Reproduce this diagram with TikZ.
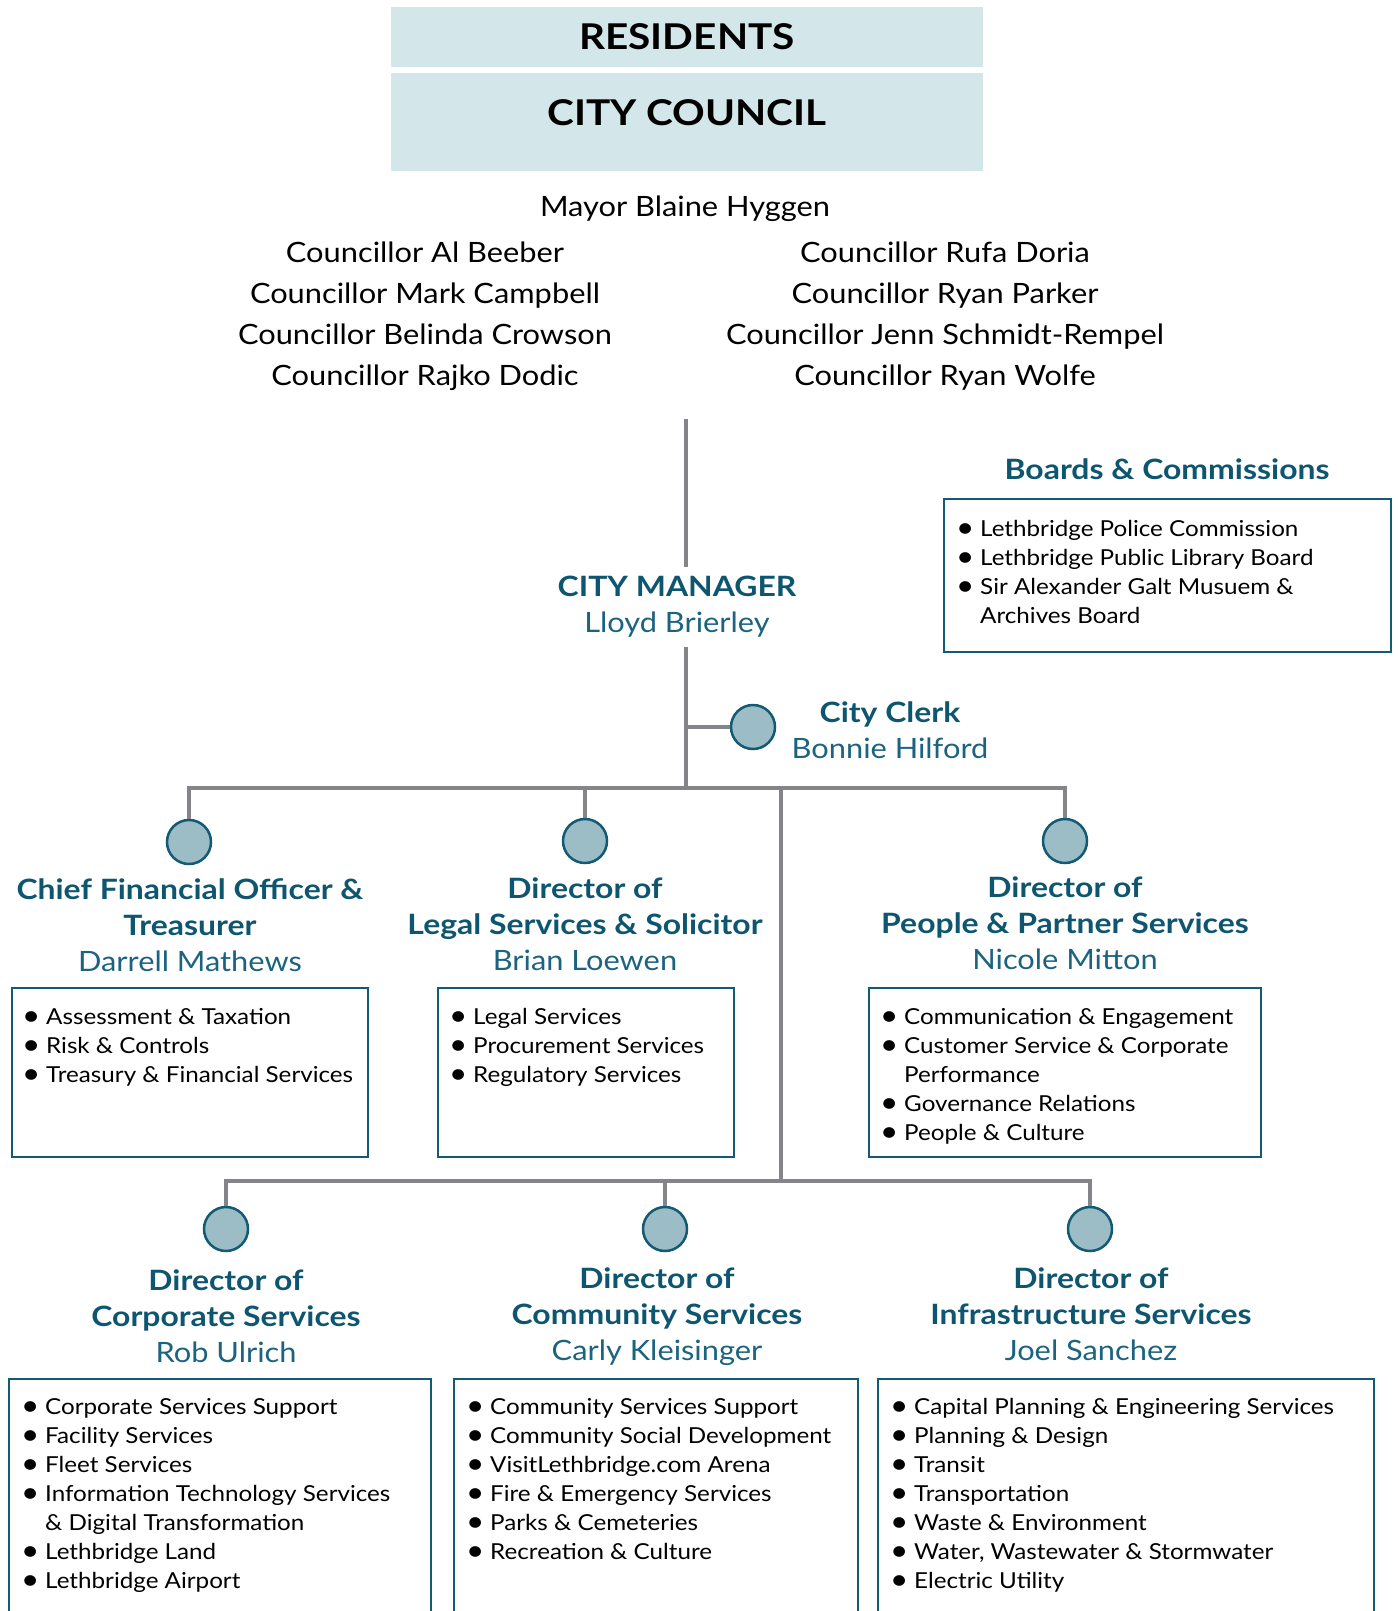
\documentclass[tikz,border=0pt]{standalone}
\usepackage{fontspec}
\setmainfont{Lato}[FakeStretch=1.1,BoldFeatures={FakeStretch=1.14}]
\usepackage{tikz}
\usetikzlibrary{calc}
\definecolor{councilblue}{RGB}{211,230,234}
\definecolor{headteal}{RGB}{14,86,112}
\definecolor{nameteal}{RGB}{28,99,128}
\definecolor{frameteal}{RGB}{19,90,115}
\definecolor{dotfill}{RGB}{157,189,198}
\definecolor{linegray}{RGB}{133,133,137}
\newcommand{\itm}{\makebox[24pt][l]{\smash{\raisebox{-1.5pt}{\scalebox{1.3}{\textbullet}}}}}
\newcommand{\ind}{\hspace*{24pt}}

\begin{document}
\begin{tikzpicture}[x=1pt,y=-1pt]
                      \tikzstyle{dot}=[circle,line width=2.5pt,draw=frameteal,fill=dotfill,inner sep=0pt,minimum size=44pt]
                      \tikzstyle{conn}=[line width=4pt,draw=linegray]
                      \tikzstyle{frame}=[line width=2.5pt,draw=frameteal]
                      \tikzstyle{band}=[fill=councilblue,minimum width=592pt,inner sep=0pt]
                      \tikzstyle{head}=[align=center,text=headteal,font=\fontsize{28}{36}\selectfont,inner sep=0pt]
                      \tikzstyle{names}=[align=center,inner sep=0pt,font=\fontsize{28}{41}\selectfont]
                      \tikzstyle{items}=[align=left,anchor=north west,inner sep=0pt,font=\fontsize{22}{29}\selectfont]
                      \useasboundingbox (0,0) rectangle (1397,1611);
                      \clip (0,0) rectangle (1397,1611);
                      \node[band,minimum height=60pt,font=\fontsize{35.5}{36}\selectfont\bfseries] (residents) at (687,37) {RESIDENTS};
                      \node[band,minimum height=98pt] (council) at (687,122) {};
                      \node[font=\fontsize{35.5}{36}\selectfont\bfseries] (counciltext) at (687,113) {CITY COUNCIL};
                      \node[font=\fontsize{28}{28}\selectfont] (mayor) at (685,209) {Mayor Blaine Hyggen};
                      \node[names] (leftcouncil) at (425,316) {Councillor Al Beeber\\Councillor Mark Campbell\\Councillor Belinda Crowson\\Councillor Rajko Dodic};
                      \node[names] (rightcouncil) at (945,316) {Councillor Rufa Doria\\Councillor Ryan Parker\\Councillor Jenn Schmidt-Rempel\\Councillor Ryan Wolfe};
                      \node[head,inner sep=9pt] (manager) at (677,607) {\textbf{CITY MANAGER}\\\textcolor{nameteal}{Lloyd Brierley}};
                      \node[dot] (clerkdot) at (753,727) {};
                      \node[head] (clerk) at (890,730) {\textbf{City Clerk}\\\textcolor{nameteal}{Bonnie Hilford}};
                      \node[head] (boards) at (1167,469) {\textbf{Boards \& Commissions}};
                      \coordinate (spinetop) at (686,419);
                      \coordinate (spinebus) at (686,788);
                      \coordinate (spine2) at (781,788);
                      \coordinate (bus2) at (781,1181);
                      \node[dot] (cfodot) at (189,842) {};
                      \node[dot] (legaldot) at (585,841) {};
                      \node[dot] (peopledot) at (1065,841) {};
                      \node[dot] (corpdot) at (226,1229) {};
                      \node[dot] (commdot) at (665,1229) {};
                      \node[dot] (infradot) at (1090,1229) {};
                      \draw[conn] (spinetop) -- (spinetop |- manager.north);
                      \draw[conn] (spinetop |- manager.south) -- (spinebus);
                      \draw[conn] (spinetop |- clerkdot) -- (clerkdot.west);
                      \draw[conn] (cfodot.north) -- (cfodot |- spinebus) -- (peopledot |- spinebus) -- (peopledot.north);
                      \draw[conn] (legaldot.north) -- (legaldot |- spinebus);
                      \draw[conn] (spine2) -- (bus2);
                      \draw[conn] (corpdot.north) -- (corpdot |- bus2) -- (infradot |- bus2) -- (infradot.north);
                      \draw[conn] (commdot.north) -- (commdot |- bus2);
                      \node[head] (cfo) at (190,925) {\textbf{Chief Financial Officer \&}\\\textbf{Treasurer}\\\textcolor{nameteal}{Darrell Mathews}};
                      \node[head] (legal) at (585,924) {\textbf{Director of}\\\textbf{Legal Services \& Solicitor}\\\textcolor{nameteal}{Brian Loewen}};
                      \node[head] (people) at (1065,923) {\textbf{Director of}\\\textbf{People \& Partner Services}\\\textcolor{nameteal}{Nicole Mitton}};
                      \node[head] (corp) at (226,1316) {\textbf{Director of}\\\textbf{Corporate Services}\\\textcolor{nameteal}{Rob Ulrich}};
                      \node[head] (comm) at (657,1317) {\textbf{Director of}\\\textbf{Community Services}\\\textcolor{nameteal}{Carly Kleisinger}};
                      \node[head] (infra) at (1091,1314) {\textbf{Director of}\\\textbf{Infrastructure Services}\\\textcolor{nameteal}{Joel Sanchez}};
                      \draw[frame] (944,499) rectangle (1391,652);
                      \draw[frame] (12,988) rectangle (368,1157);
                      \draw[frame] (438,988) rectangle (734,1157);
                      \draw[frame] (869,988) rectangle (1261,1157);
                      \draw[frame] (9,1379) rectangle (431,1650);
                      \draw[frame] (454,1379) rectangle (858,1650);
                      \draw[frame] (878,1379) rectangle (1374,1650);
                      \node[items] (boardlist) at (956,520) {\itm Lethbridge Police Commission\\\itm Lethbridge Public Library Board\\\itm Sir Alexander Galt Musuem \&\\\ind Archives Board};
                      \node[items] (cfolist) at (22,1008) {\itm Assessment \& Taxation\\\itm Risk \& Controls\\\itm Treasury \& Financial Services};
                      \node[items] (legallist) at (449,1008) {\itm Legal Services\\\itm Procurement Services\\\itm Regulatory Services};
                      \node[items] (peoplelist) at (880,1008) {\itm Communication \& Engagement\\\itm Customer Service \& Corporate\\\ind Performance\\\itm Governance Relations\\\itm People \& Culture};
                      \node[items] (corplist) at (21,1398) {\itm Corporate Services Support\\\itm Facility Services\\\itm Fleet Services\\\itm Information Technology Services\\\ind \& Digital Transformation\\\itm Lethbridge Land\\\itm Lethbridge Airport};
                      \node[items] (commlist) at (466,1398) {\itm Community Services Support\\\itm Community Social Development\\\itm VisitLethbridge.com Arena\\\itm Fire \& Emergency Services\\\itm Parks \& Cemeteries\\\itm Recreation \& Culture};
                      \node[items] (infralist) at (890,1398) {\itm Capital Planning \& Engineering Services\\\itm Planning \& Design\\\itm Transit\\\itm Transportation\\\itm Waste \& Environment\\\itm Water, Wastewater \& Stormwater\\\itm Electric Utility};
                  \end{tikzpicture}
\end{document}
